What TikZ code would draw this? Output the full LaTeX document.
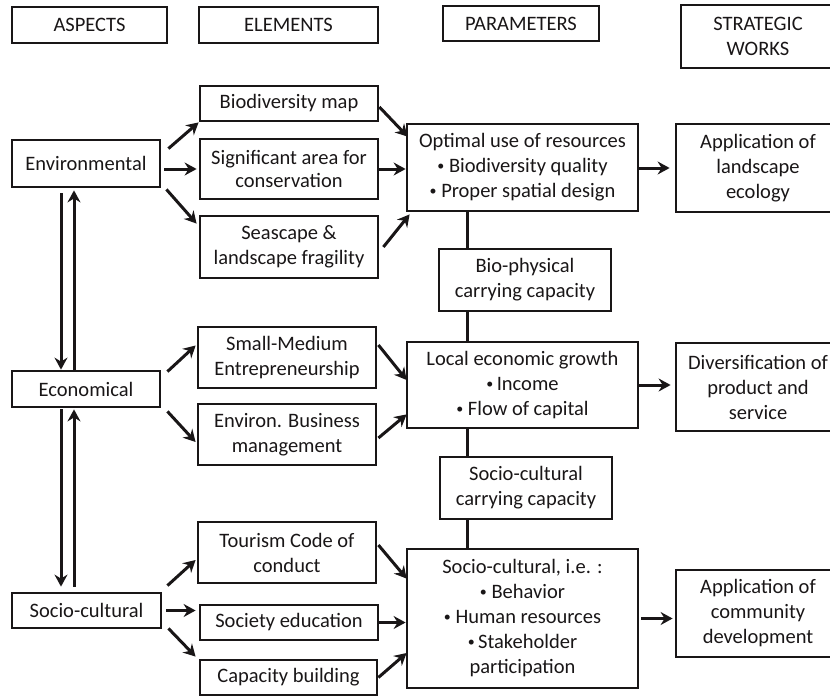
\documentclass[tikz,border=0pt]{standalone}
\usepackage{fontspec}
\setmainfont{Carlito}
\usetikzlibrary{arrows.meta}
\definecolor{ink}{RGB}{25,22,23}
\newcommand\bul{{\fontsize{14}{14}\selectfont\raisebox{2pt}{•}}}
\tikzset{
  box/.style={draw=ink, line width=2.8pt, align=center, inner sep=0pt, text=ink,
              font=\fontsize{20.5}{25}\selectfont},
  bx/.style 2 args={box, minimum width=#1, minimum height=#2},
  arr/.style={draw=ink, line width=3pt, -{Stealth[length=12pt,width=13pt,inset=4pt]}},
  link/.style={draw=ink, line width=3pt},
}
\begin{document}
\begin{tikzpicture}[x=1pt,y=-1pt]
\useasboundingbox (0,0) rectangle (830,696);
\clip (0,0) rectangle (830,696);
% headers
\node[bx={155}{36}] (hA) at (89.5,25) {ASPECTS};
\node[bx={179}{36}] (hE) at (288.5,25) {ELEMENTS};
\node[bx={156}{35}] (hP) at (521,23.5) {PARAMETERS};
\node[bx={154}{63}] (hS) at (758,36.5) {STRATEGIC\\WORKS};
% aspects
\node[bx={148}{47}] (env) at (86,163.5) {Environmental};
\node[bx={148}{36}] (eco) at (86,389) {Economical};
\node[bx={149}{35}] (soc) at (86.5,610.5) {Socio-cultural};
% elements
\node[bx={178}{35}] (bio) at (289,103.5) {Biodiversity map};
\node[bx={178}{60}, font=\fontsize{20.5}{22.5}\selectfont] (sig) at (289,169) {Significant area for\\conservation};
\node[bx={178}{62}] (sea) at (289,247) {Seascape \&\\landscape fragility};
\node[bx={178}{61}] (sme) at (287,357.5) {Small-Medium\\Entrepreneurship};
\node[bx={178}{61}] (ebm) at (287,434.5) {Environ. Business\\management};
\node[bx={178}{61}] (tcc) at (287,552.5) {Tourism Code of\\conduct};
\node[bx={178}{35}] (sed) at (289,622.5) {Society education};
\node[bx={177}{35}] (cap) at (288.5,677.5) {Capacity building};
% parameters
\node[bx={231}{87}] (opt) at (522.5,167.5) {Optimal use of resources\\\bul\ Biodiversity quality\\\bul\ Proper spatial design};
\node[bx={172}{62}] (bpc) at (525,280) {Bio-physical\\carrying capacity};
\node[bx={231}{86}] (leg) at (522.5,385) {Local economic growth\\\bul\,Income\\\bul\ Flow of capital};
\node[bx={172}{62}] (scc) at (526,488) {Socio-cultural\\carrying capacity};
\node[bx={231}{139}] (scp) at (522.5,618.5) {Socio-cultural, i.e. :\\\bul\ Behavior\\\bul\ Human resources\\\bul\,Stakeholder\\participation};
% strategic works
\node[bx={164}{88}] (app1) at (758,168) {Application of\\landscape\\ecology};
\node[bx={164}{88}] (div) at (758,387) {Diversification of\\product and\\service};
\node[bx={164}{87}] (app2) at (758,613.5) {Application of\\community\\development};
% helper coordinates
\coordinate (vl) at (61,0);
\coordinate (vr) at (74,0);
\coordinate (vx) at (467,0);
% vertical aspect arrows
\draw[arr, shorten <=5pt] (vl |- env.south) -- (vl |- eco.north);
\draw[arr, shorten >=2pt] (vr |- eco.north) -- (vr |- env.south);
\draw[arr, shorten <=1pt, shorten >=5pt] (vl |- eco.south) -- (vl |- soc.north);
\draw[arr, shorten <=5pt, shorten >=1pt] (vr |- soc.north) -- (vr |- eco.south);
% environmental
\draw[arr] ([shift={(7,10)}]env.north east) -- (bio.south west);
\draw[arr, shorten <=3pt, shorten >=2pt] (env.east |- sig.west) -- (sig.west);
\draw[arr] ([shift={(5,1)}]env.south east) -- ([shift={(-2,9)}]sea.north west);
\draw[arr] ([shift={(0,3.5)}]bio.east) -- ([shift={(2,14)}]opt.north west);
\draw[arr] (sig.east) -- (sig.east -| opt.west);
\draw[arr] ([shift={(4,0)}]sea.east) -- ([shift={(4,2)}]opt.south west);
\draw[arr, shorten >=5pt] (opt.east |- app1.west) -- (app1.west);
% economical
\draw[arr] ([shift={(6,2)}]eco.north east) -- ([shift={(-1,-12)}]sme.west);
\draw[arr] ([shift={(6,3)}]eco.south east) -- ([shift={(-1,7.5)}]ebm.west);
\draw[arr] ([shift={(1,-12.5)}]sme.east) -- ([shift={(1,-5)}]leg.west);
\draw[arr] ([shift={(1,3.5)}]ebm.east) -- ([shift={(1,-15)}]leg.south west);
\draw[arr, shorten >=4pt] (leg.east) -- (leg.east -| div.west);
% socio-cultural
\draw[arr] ([shift={(5,-6)}]soc.north east) -- ([shift={(-1,7.5)}]tcc.west);
\draw[arr, shorten <=4pt, shorten >=3pt] (soc.east) -- (soc.east -| sed.west);
\draw[arr] ([shift={(6,-1)}]soc.south east) -- ([shift={(-3,-2)}]cap.north west);
\draw[arr] ([shift={(1,-7.5)}]tcc.east) -- ([shift={(1,31)}]scp.north west);
\draw[arr] (sed.east) -- (sed.east -| scp.west);
\draw[arr] (cap.east) -- ([shift={(1,34.5)}]scp.west);
\draw[arr, shorten <=2pt, shorten >=2pt] (scp.east) -- (scp.east -| app2.west);
% parameter links
\draw[link] (vx |- opt.south) -- (vx |- bpc.north);
\draw[link] (vx |- bpc.south) -- (vx |- leg.north);
\draw[link] (vx |- leg.south) -- (vx |- scc.north);
\draw[link] (vx |- scc.south) -- (vx |- scp.north);
\end{tikzpicture}
\end{document}
